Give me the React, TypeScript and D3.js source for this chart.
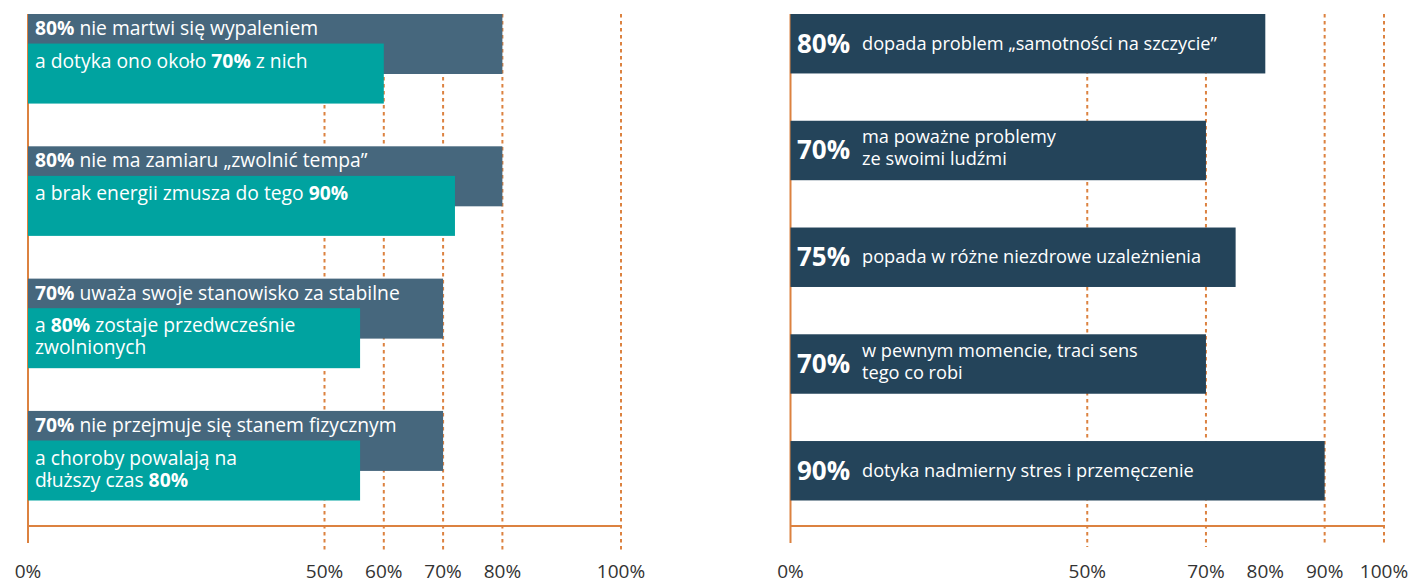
import React from 'react';
import * as d3 from 'd3';

// ---------- DATA ----------
const leftCategories = ['wypalenie', 'tempo', 'stanowisko', 'zdrowie'];
const leftPrimaryValues = [80, 80, 70, 70];
const leftSecondaryValues = [60, 72, 56, 56];
const leftPrimaryLabels = [
  '**80%** nie martwi się wypaleniem',
  '**80%** nie ma zamiaru „zwolnić tempa”',
  '**70%** uważa swoje stanowisko za stabilne',
  '**70%** nie przejmuje się stanem fizycznym',
];
const leftSecondaryLabels = [
  ['a dotyka ono około **70%** z nich'],
  ['a brak energii zmusza do tego **90%**'],
  ['a **80%** zostaje przedwcześnie', 'zwolnionych'],
  ['a choroby powalają na', 'dłuższy czas **80%**'],
];
const leftTicks = [0, 50, 60, 70, 80, 100];
const leftGrid = [50, 60, 70, 80, 100];

const rightCategories = ['samotność', 'ludzie', 'uzależnienia', 'sens', 'stres'];
const rightValues = [80, 70, 75, 70, 90];
const rightPercentLabels = ['80%', '70%', '75%', '70%', '90%'];
const rightLabels = [
  ['dopada problem „samotności na szczycie”'],
  ['ma poważne problemy', 'ze swoimi ludźmi'],
  ['popada w różne niezdrowe uzależnienia'],
  ['w pewnym momencie, traci sens', 'tego co robi'],
  ['dotyka nadmierny stres i przemęczenie'],
];
const rightTicks = [0, 50, 70, 80, 90, 100];
const rightGrid = [50, 70, 90, 100];

// ---------- STYLE ----------
const FONT = "'Open Sans', 'Noto Sans', sans-serif";
const ORANGE = '#dc8240';
const SLATE = '#46677d';
const TEAL = '#00a3a0';
const NAVY = '#24445a';
const TICK_COLOR = '#333333';

function parseRich(s: string) {
  const parts = s.split('**');
  return parts.map((t, i) => ({ text: t, bold: i % 2 === 1 })).filter((p) => p.text.length > 0);
}

function RichText({ x, y, s, size, fill }: { x: number; y: number; s: string; size: number; fill: string }) {
  return (
    <text x={x} y={y} fontSize={size} fill={fill} fontFamily={FONT}>
      {parseRich(s).map((p, i) => (
        <tspan key={i} fontWeight={p.bold ? 700 : 400}>
          {p.text}
        </tspan>
      ))}
    </text>
  );
}

export default function App() {
  const W = 1412;
  const H = 583;

  // Left chart scales
  const xL = d3.scaleLinear().domain([0, 100]).range([28, 621]);
  const yL = d3
    .scaleBand<string>()
    .domain(leftCategories)
    .range([14, 500.5])
    .paddingInner(0.323)
    .paddingOuter(0);
  const subH = 60;
  const subOffset = yL.bandwidth() - subH;

  // Right chart scales
  const xR = d3.scaleLinear().domain([0, 100]).range([790.5, 1384]);
  const yR = d3
    .scaleBand<string>()
    .domain(rightCategories)
    .range([14, 500.5])
    .paddingInner(0.443)
    .paddingOuter(0);

  const axisY = 526;
  const tickY = 578;

  return (
    <svg
      width={W}
      height={H}
      style={{ position: 'absolute', left: 0, top: 0, background: '#ffffff' }}
    >
      {/* ---------- LEFT ---------- */}
      <g>
        {leftGrid.map((t) => (
          <line
            key={t}
            x1={xL(t)}
            x2={xL(t)}
            y1={14}
            y2={t >= 80 ? 550 : 553}
            stroke={ORANGE}
            strokeWidth={2}
            strokeDasharray="3.5,3.5"
          />
        ))}
        <line x1={xL(0)} x2={xL(0)} y1={14} y2={543} stroke={ORANGE} strokeWidth={2} />
        <line x1={xL(0)} x2={xL(100)} y1={axisY} y2={axisY} stroke={ORANGE} strokeWidth={2} />
        {leftCategories.map((c, i) => {
          const y0 = yL(c) as number;
          return (
            <g key={c}>
              <rect x={xL(0)} y={y0} width={xL(leftPrimaryValues[i]) - xL(0)} height={subH} fill={SLATE} />
              <rect
                x={xL(0)}
                y={y0 + subOffset}
                width={xL(leftSecondaryValues[i]) - xL(0)}
                height={subH}
                fill={TEAL}
              />
              <RichText x={35} y={y0 + 21} s={leftPrimaryLabels[i]} size={19.3} fill="#ffffff" />
              {leftSecondaryLabels[i].map((ln, j) => (
                <RichText key={j} x={35} y={y0 + subOffset + 24 + j * 22} s={ln} size={19.3} fill="#ffffff" />
              ))}
            </g>
          );
        })}
        {leftTicks.map((t) => (
          <text
            key={t}
            x={xL(t)}
            y={tickY}
            textAnchor="middle"
            fontSize={19}
            fill={TICK_COLOR}
            fontFamily={FONT}
          >
            {t}%
          </text>
        ))}
      </g>

      {/* ---------- RIGHT ---------- */}
      <g>
        {rightGrid.map((t) => (
          <line
            key={t}
            x1={xR(t)}
            x2={xR(t)}
            y1={14}
            y2={t >= 90 ? 543 : 547}
            stroke={ORANGE}
            strokeWidth={2}
            strokeDasharray="3.5,3.5"
          />
        ))}
        <line x1={xR(0)} x2={xR(0)} y1={14} y2={543} stroke={ORANGE} strokeWidth={2} />
        <line x1={xR(0)} x2={xR(100)} y1={axisY} y2={axisY} stroke={ORANGE} strokeWidth={2} />
        {rightCategories.map((c, i) => {
          const y0 = yR(c) as number;
          const bh = yR.bandwidth();
          const cy = y0 + bh / 2;
          const lines = rightLabels[i];
          return (
            <g key={c}>
              <rect x={xR(0)} y={y0} width={xR(rightValues[i]) - xR(0)} height={bh} fill={NAVY} />
              <text
                x={797}
                y={cy + 9}
                fontSize={26}
                fontWeight={700}
                fill="#ffffff"
                fontFamily={FONT}
              >
                {rightPercentLabels[i]}
              </text>
              {lines.map((ln, j) => (
                <text
                  key={j}
                  x={862}
                  y={lines.length === 1 ? cy + 6 : cy - 7 + j * 22}
                  fontSize={18.2}
                  fill="#ffffff"
                  fontFamily={FONT}
                >
                  {ln}
                </text>
              ))}
            </g>
          );
        })}
        {rightTicks.map((t) => (
          <text
            key={t}
            x={xR(t)}
            y={tickY}
            textAnchor="middle"
            fontSize={19}
            fill={TICK_COLOR}
            fontFamily={FONT}
          >
            {t}%
          </text>
        ))}
      </g>
    </svg>
  );
}
